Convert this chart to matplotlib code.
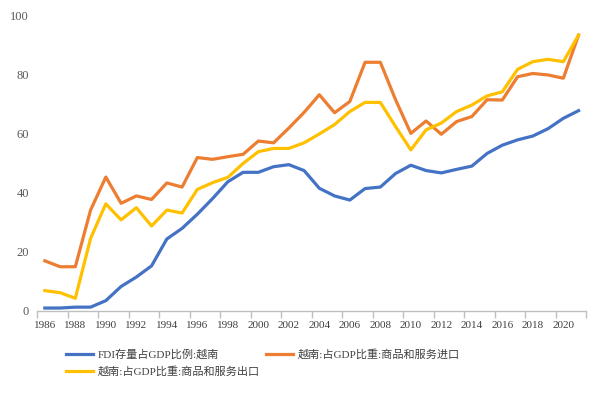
import numpy as np
import matplotlib.pyplot as plt

plt.rcParams['font.family'] = ['Liberation Serif', 'Noto Sans CJK SC', 'DejaVu Sans']

# 数据：越南 FDI 存量与进出口占 GDP 比重
years = list(range(1986, 2022))
fdi = [1.0, 1.0, 1.3, 1.3, 3.5, 8.3, 11.5, 15.3, 24.4, 28.0, 32.8, 38.1, 43.8,
       47.0, 47.0, 48.9, 49.6, 47.6, 41.6, 39.0, 37.6, 41.5, 42.0, 46.6, 49.4,
       47.6, 46.8, 48.0, 49.1, 53.4, 56.2, 58.0, 59.3, 61.8, 65.3, 67.9]
imports = [17.0, 15.0, 15.0, 34.2, 45.4, 36.5, 39.0, 37.8, 43.4, 42.0, 52.0, 51.4,
           52.3, 53.1, 57.6, 57.0, 62.0, 67.3, 73.3, 67.2, 71.0, 84.3, 84.3, 71.6,
           60.2, 64.4, 59.9, 64.2, 65.9, 71.6, 71.5, 79.4, 80.5, 80.0, 78.9, 93.5]
exports = [6.9, 6.2, 4.3, 24.6, 36.3, 30.9, 35.0, 28.8, 34.2, 33.2, 41.2, 43.5,
           45.3, 50.0, 54.0, 55.1, 55.1, 57.0, 60.0, 63.2, 67.6, 70.7, 70.7, 62.5,
           54.6, 61.4, 63.7, 67.6, 69.8, 72.9, 74.3, 81.9, 84.5, 85.3, 84.5, 93.5]

labels = ['FDI存量占GDP比例:越南', '越南:占GDP比重:商品和服务进口', '越南:占GDP比重:商品和服务出口']
colors = ['#4472C4', '#ED7D31', '#FFC000']

fig = plt.figure(figsize=(6.0, 3.99), dpi=100)
ax = fig.add_axes([0.062, 0.2206, 0.915, 0.7394])

l1, = ax.plot(years, fdi, color=colors[0], lw=2.3, label=labels[0])
l2, = ax.plot(years, imports, color=colors[1], lw=2.3, label=labels[1])
l3, = ax.plot(years, exports, color=colors[2], lw=2.3, label=labels[2])

ax.set_ylim(0, 100)
ax.set_xlim(1985.5, 2021.5)
ax.set_yticks(range(0, 101, 20))
ax.set_xticks(range(1986, 2021, 2))
ax.set_xticks(np.arange(1985.5, 2022, 2), minor=True)

for s in ['top', 'right', 'left']:
    ax.spines[s].set_visible(False)
ax.spines['bottom'].set_color('#BFBFBF')
ax.spines['bottom'].set_linewidth(1.0)

ax.tick_params(axis='y', length=0, labelsize=9, labelcolor='#595959', pad=6)
ax.tick_params(axis='x', which='major', length=0, labelsize=8, labelcolor='#404040', pad=7)
ax.tick_params(axis='x', which='minor', length=5, color='#BFBFBF', width=1.0, direction='out')

fig.legend([l1, l3, l2], [labels[0], labels[2], labels[1]], ncol=2,
           loc='upper left', bbox_to_anchor=(0.11, 0.125), frameon=False,
           fontsize=8, handlelength=2.4, handletextpad=0.45, columnspacing=0.6,
           labelspacing=0.55, borderpad=0, borderaxespad=0, labelcolor='#404040')

fig.savefig('out.png', dpi=100)
